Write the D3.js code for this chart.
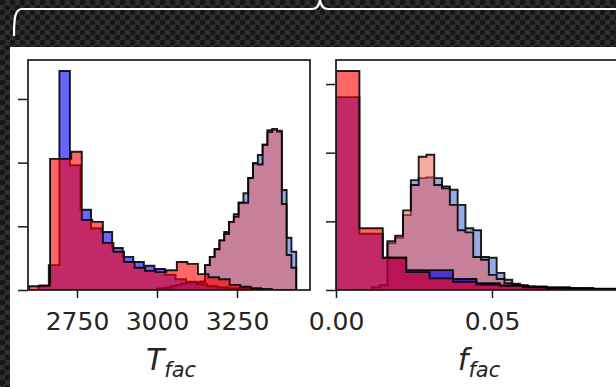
<!DOCTYPE html>
<html>
<head>
<meta charset="utf-8">
<script src="https://d3js.org/d3.v7.min.js"></script>
<style>
  html, body { margin: 0; padding: 0; background: #222; }
  svg { display: block; }
</style>
</head>
<body>
<svg id="viz" width="616" height="387"></svg>
<script>
// ---- data ----
const tfacTicks = [2750, 3000, 3250];
const ffacTicks = [0.00, 0.05];
const yTicks = [0, 1, 2, 3];

// bins are [first edge, bin width]
const tBinsBlueA = [2629, 33];
const tBlueA = [0.06, 0.39, 3.44, 1.96, 1.26, 0.97, 0.91, 0.66, 0.52, 0.44, 0.38, 0.33, 0.24, 0.17, 0.13, 0.09, 0.06, 0.04, 0.03, 0.02, 0.01];
const tBinsRedA = [2600, 33];
const tRedA = [0.06, 0.07, 2.06, 2.06, 2.17, 1.10, 1.07, 0.74, 0.60, 0.44, 0.35, 0.30, 0.28, 0.31, 0.44, 0.41, 0.25, 0.20, 0.17, 0.08, 0.05, 0.03, 0.015];
const tBinsB = [3000, 15];
const tBlueB = [0.02, 0.03, 0.04, 0.06, 0.08, 0.10, 0.11, 0.12, 0.12, 0.13,
  0.39, 0.52, 0.64, 0.78, 0.91, 1.07, 1.19, 1.37, 1.52, 1.76, 1.99, 2.12, 2.28, 2.51, 2.51, 2.48, 1.57, 0.82, 0.60];
const tRedB = [0.02, 0.03, 0.04, 0.06, 0.08, 0.10, 0.11, 0.12, 0.12, 0.13,
  0.39, 0.52, 0.64, 0.78, 0.88, 1.07, 1.15, 1.37, 1.37, 1.76, 1.99, 1.97, 2.28, 2.48, 2.53, 2.50, 1.35, 0.55, 0.35];

const fBinsA = [0, 0.0075];
const fBlueA = [2.81, 0.82, 0.47, 0.29, 0.29, 0.16, 0.10, 0.07, 0.05, 0.04, 0.03, 0.02];
const fRedA = [3.19, 0.90, 0.47, 0.26, 0.17, 0.12, 0.08, 0.06, 0.04, 0.03, 0.02, 0.015];
const fBinsB = [0.0115, 0.0025];
const fBlueB = [0.04, 0.07, 0.68, 0.76, 1.09, 1.60, 1.63, 1.64, 1.63, 1.51, 1.46, 1.24, 0.90, 0.87, 0.48, 0.47, 0.25, 0.15, 0.09, 0.07, 0.05, 0.04,
  0.035, 0.03, 0.03, 0.025, 0.02, 0.02, 0.015, 0.015, 0.01, 0.01];
const fRedB = [0.04, 0.07, 0.71, 0.79, 1.16, 1.53, 1.94, 1.97, 1.53, 1.48, 1.24, 0.87, 0.84, 0.48, 0.44, 0.22, 0.16, 0.10, 0.07, 0.06, 0.04, 0.035,
  0.03, 0.03, 0.025, 0.02, 0.02, 0.015, 0.015, 0.01, 0.01, 0.01];

const svg = d3.select("#viz")

// dotted dark backdrop
const defs = svg.append("defs")
const pat = defs.append("pattern").attr("id", "dots")
  .attr("width", 10).attr("height", 10).attr("patternUnits", "userSpaceOnUse")
pat.append("rect").attr("width", 10).attr("height", 10).attr("fill", "#2e2e2e")
pat.append("circle").attr("cx", 2.5).attr("cy", 2.5).attr("r", 2.8).attr("fill", "#161616")
pat.append("circle").attr("cx", 7.5).attr("cy", 7.5).attr("r", 2.8).attr("fill", "#161616")
svg.append("rect").attr("width", 616).attr("height", 387).attr("fill", "url(#dots)")

// white brace on top
svg.append("path")
  .attr("d", "M14,36 C14,18 15,9 22,9 L312,9 C317,9 319,6 320,0 C321,6 323,9 328,9 L616,9")
  .attr("fill", "none").attr("stroke", "white").attr("stroke-width", 2.2)

// white figure area
svg.append("rect").attr("x", 10).attr("y", 47).attr("width", 606).attr("height", 340).attr("fill", "white")

const plotTop = 60, plotBottom = 290

function stepPath(x, y, bins, counts) {
  const [start, w] = bins
  const pts = [[x(start), y(0)]]
  counts.forEach((c, i) => {
    const x0 = start + i * w
    pts.push([x(x0), y(c)], [x(x0 + w), y(c)])
  })
  pts.push([x(start + counts.length * w), y(0)])
  return d3.line()(pts) + "Z"
}

function drawPanel(cfg) {
  const x = d3.scaleLinear().domain(cfg.xDomain).range([cfg.left, cfg.right])
  const y = d3.scaleLinear().domain([0, cfg.yMax]).range([plotBottom, plotTop])
  const g = svg.append("g")

  defs.append("clipPath").attr("id", cfg.id)
    .append("rect").attr("x", cfg.left).attr("y", plotTop)
    .attr("width", cfg.right - cfg.left).attr("height", plotBottom - plotTop)

  const h = g.append("g").attr("clip-path", `url(#${cfg.id})`)
  cfg.series.forEach(s => {
    h.append("path")
      .attr("d", stepPath(x, y, s.bins, s.counts))
      .attr("fill", s.color).attr("fill-opacity", s.alpha)
      .attr("stroke", "black").attr("stroke-opacity", 0.88)
      .attr("stroke-width", 1.9).attr("stroke-linejoin", "miter")
  })

  // frame
  g.append("rect").attr("x", cfg.left).attr("y", plotTop)
    .attr("width", cfg.right - cfg.left).attr("height", plotBottom - plotTop)
    .attr("fill", "none").attr("stroke", "#1a1a1a").attr("stroke-width", 1.7)

  const xAxis = g.append("g").attr("transform", `translate(0,${plotBottom})`)
    .call(d3.axisBottom(x).tickValues(cfg.ticks).tickFormat(cfg.fmt).tickSize(8).tickSizeOuter(0))
  xAxis.select(".domain").remove()
  xAxis.selectAll("line").attr("stroke", "#1a1a1a").attr("stroke-width", 1.5)
  xAxis.selectAll("text")
    .attr("y", 40).attr("dy", 0)
    .attr("font-family", "DejaVu Sans").attr("font-size", 25).attr("fill", "#262626")

  const yAxis = g.append("g").attr("transform", `translate(${cfg.left},0)`)
    .call(d3.axisLeft(y).tickValues(yTicks).tickFormat("").tickSize(10).tickSizeOuter(0))
  yAxis.select(".domain").remove()
  yAxis.selectAll("line").attr("stroke", "#1a1a1a").attr("stroke-width", 1.5)

  // axis label with subscript
  const lab = g.append("text")
    .attr("x", (cfg.left + cfg.right) / 2 + 2).attr("y", 370)
    .attr("text-anchor", "middle")
    .attr("font-family", "DejaVu Sans").attr("font-style", "italic").attr("fill", "#262626")
  lab.append("tspan").attr("font-size", 30).text(cfg.label)
  lab.append("tspan").attr("font-size", 21).attr("dy", 7).text("fac")
}

drawPanel({
  id: "clipT", left: 28, right: 310, xDomain: [2597, 3478], yMax: 3.612,
  ticks: tfacTicks, fmt: d3.format("d"), label: "T",
  series: [
    { bins: tBinsB, counts: tBlueB, color: "#2d55cd", alpha: 0.5 },
    { bins: tBinsB, counts: tRedB, color: "#f5554b", alpha: 0.5 },
    { bins: tBinsBlueA, counts: tBlueA, color: "#0000ff", alpha: 0.6 },
    { bins: tBinsRedA, counts: tRedA, color: "#ff0000", alpha: 0.6 }
  ]
})

drawPanel({
  id: "clipF", left: 336, right: 618, xDomain: [0, 0.0904], yMax: 3.35,
  ticks: ffacTicks, fmt: d3.format(".2f"), label: "f",
  series: [
    { bins: fBinsB, counts: fBlueB, color: "#2d55cd", alpha: 0.5 },
    { bins: fBinsB, counts: fRedB, color: "#f5554b", alpha: 0.5 },
    { bins: fBinsA, counts: fBlueA, color: "#0000ff", alpha: 0.6 },
    { bins: fBinsA, counts: fRedA, color: "#ff0000", alpha: 0.6 }
  ]
})
</script>
</body>
</html>
